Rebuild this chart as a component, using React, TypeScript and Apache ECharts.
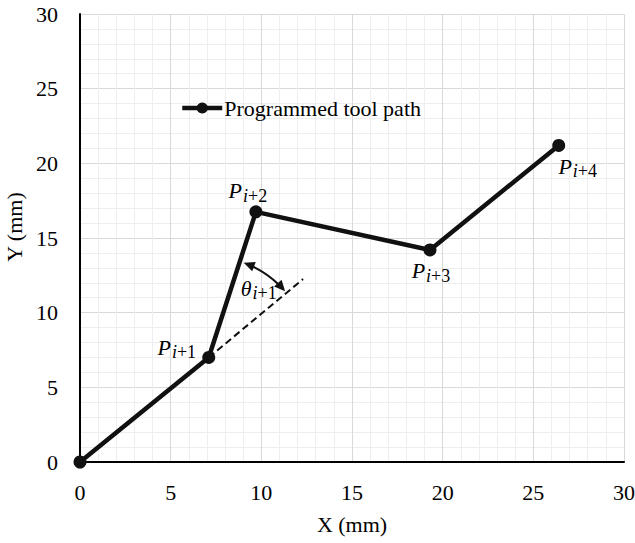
import React, { useEffect, useRef } from "react";
import * as echarts from "echarts";

const pathX = [0, 7.1, 9.7, 19.3, 26.4];
const pathY = [0, 7.0, 16.75, 14.2, 21.2];
const pointNames = ["", "i+1", "i+2", "i+3", "i+4"];
const dashX = [7.1, 12.3];
const dashY = [7.0, 12.25];
const legendName = "Programmed tool path";
const xName = "X (mm)";
const yName = "Y (mm)";

const FONT = "'Liberation Serif', 'Times New Roman', serif";

const labelOffsets: Record<string, number[]> = {
  "i+1": [-32, -10],
  "i+2": [-8, -21],
  "i+3": [1, 21],
  "i+4": [19, 21],
};

const rich = {
  p: { fontFamily: FONT, fontStyle: "italic", fontSize: 22, color: "#000" },
  t: { fontFamily: FONT, fontStyle: "italic", fontSize: 22, color: "#000" },
  si: { fontFamily: FONT, fontStyle: "italic", fontSize: 18, color: "#000", padding: [10, 0, 0, 1] },
  sn: { fontFamily: FONT, fontSize: 18, color: "#000", padding: [10, 0, 0, 0] },
};

export default function App() {
  const ref = useRef<HTMLDivElement>(null);
  useEffect(() => {
    document.body.style.margin = "0";
    document.body.style.overflow = "hidden";
    if (!ref.current) return;
    const chart = echarts.init(ref.current, null, { renderer: "svg" });
    const data = pathX.map((x, i) => {
      const n = pointNames[i];
      const item: any = { value: [x, pathY[i]] };
      if (n) {
        const [ox, oy] = labelOffsets[n];
        const b = n.slice(1);
        item.label = {
          show: true,
          position: "inside",
          offset: [ox, oy],
          formatter: `{p|P}{si|i}{sn|${b}}`,
          rich,
        };
      }
      return item;
    });
    chart.setOption({
      animation: false,
      grid: { left: 80, right: 11, top: 14, bottom: 81, containLabel: false, outerBoundsMode: "none" },
      legend: {
        show: true,
        left: 180,
        top: 97,
        padding: 0,
        itemWidth: 40,
        itemHeight: 14,
        itemGap: 0,
        lineStyle: { width: 4.5 },
        textStyle: { fontFamily: FONT, fontSize: 22, color: "#000", padding: [0, 0, 0, -3] },
        data: [{ name: legendName }],
        selectedMode: false,
      },
      xAxis: {
        type: "value",
        min: 0,
        max: 30,
        interval: 5,
        name: xName,
        nameLocation: "middle",
        nameGap: 51,
        nameTextStyle: { fontFamily: FONT, fontSize: 22, color: "#000" },
        axisLine: { show: true, onZero: false, lineStyle: { color: "#000", width: 2 } },
        axisTick: { show: false },
        axisLabel: { fontFamily: FONT, fontSize: 22, color: "#000", margin: 19 },
        splitLine: { show: true, lineStyle: { color: "#d9d9d9", width: 1 } },
        minorTick: { show: false, splitNumber: 5 },
        minorSplitLine: { show: true, lineStyle: { color: "#eeeeee", width: 1 } },
      },
      yAxis: {
        type: "value",
        min: 0,
        max: 30,
        interval: 5,
        name: yName,
        nameLocation: "middle",
        nameGap: 53,
        nameTextStyle: { fontFamily: FONT, fontSize: 22, color: "#000", padding: [0, 0, 0, 22] },
        axisLine: { show: true, onZero: false, lineStyle: { color: "#000", width: 2 } },
        axisTick: { show: false },
        axisLabel: { fontFamily: FONT, fontSize: 22, color: "#000", margin: 22 },
        splitLine: { show: true, lineStyle: { color: "#d9d9d9", width: 1 } },
        minorTick: { show: false, splitNumber: 5 },
        minorSplitLine: { show: true, lineStyle: { color: "#eeeeee", width: 1 } },
      },
      series: [
        {
          name: "dash",
          type: "line",
          data: dashX.map((x, i) => [x, dashY[i]]),
          symbol: "none",
          lineStyle: { color: "#111", width: 2, type: [7, 4] },
          silent: true,
          z: 1,
        },
        {
          name: legendName,
          type: "line",
          data,
          symbol: "circle",
          symbolSize: 13,
          itemStyle: { color: "#111" },
          lineStyle: { color: "#111", width: 4.5 },
          z: 3,
        },
      ],
    });

    // angle annotation computed from data points
    const c = chart.convertToPixel({ gridIndex: 0 }, [pathX[1], pathY[1]]) as number[];
    const p2 = chart.convertToPixel({ gridIndex: 0 }, [pathX[2], pathY[2]]) as number[];
    const d2 = chart.convertToPixel({ gridIndex: 0 }, [dashX[1], dashY[1]]) as number[];
    const a1 = Math.atan2(p2[1] - c[1], p2[0] - c[0]) + 0.05;
    const a2 = Math.atan2(d2[1] - c[1], d2[0] - c[0]) - 0.03;
    const r = 101;
    const head = (ang: number, dir: number) => {
      const px = c[0] + r * Math.cos(ang);
      const py = c[1] + r * Math.sin(ang);
      const tx = -Math.sin(ang) * dir;
      const ty = Math.cos(ang) * dir;
      const nx = Math.cos(ang);
      const ny = Math.sin(ang);
      const L = 10, W = 5;
      return [
        [px + tx * 1, py + ty * 1],
        [px - tx * L + nx * W, py - ty * L + ny * W],
        [px - tx * L - nx * W, py - ty * L - ny * W],
      ];
    };
    chart.setOption({
      graphic: [
        {
          type: "arc",
          shape: { cx: c[0], cy: c[1], r, startAngle: a1 + 0.08, endAngle: a2 - 0.08, clockwise: true },
          style: { stroke: "#111", lineWidth: 2, fill: null },
          z: 10,
        },
        { type: "polygon", shape: { points: head(a1, -1) }, style: { fill: "#111" }, z: 10 },
        { type: "polygon", shape: { points: head(a2, 1) }, style: { fill: "#111" }, z: 10 },
        {
          type: "text",
          x: c[0] + 32,
          y: c[1] - 69,
          style: {
            text: "{t|θ}{si|i}{sn|+1}",
            rich,
            verticalAlign: "middle",
            align: "left",
          },
          z: 10,
        },
      ],
    });
    return () => chart.dispose();
  }, []);
  return <div ref={ref} style={{ width: 635, height: 543 }} />;
}
